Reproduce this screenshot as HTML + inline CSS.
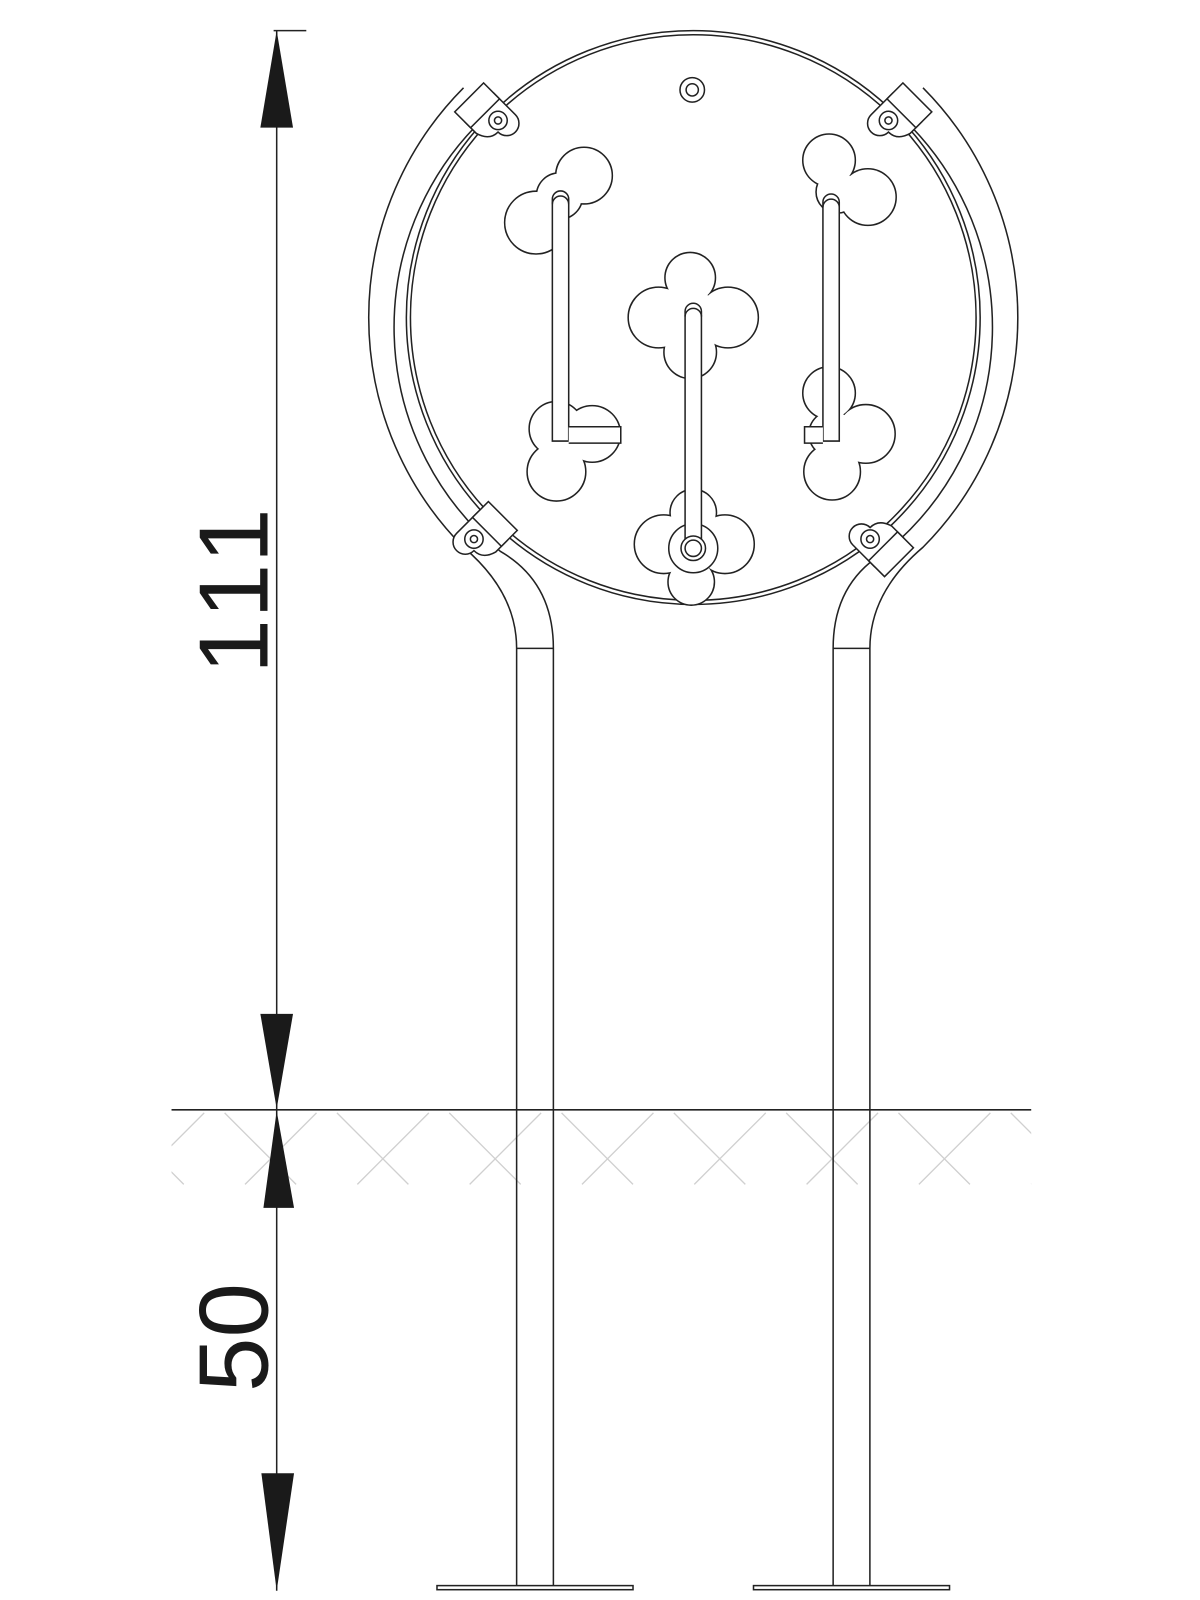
<!DOCTYPE html>
<html><head><style>body{margin:0;background:#fff}svg{display:block}
.st{stroke:#222;stroke-width:3;fill:#fff}.fl{stroke:none;fill:#fff}</style></head><body>
<svg width="1200" height="1600" viewBox="0 0 1200 1600" xmlns="http://www.w3.org/2000/svg">
<defs><clipPath id="hc"><rect x="168" y="1089" width="842" height="72"/></clipPath>
<g id="cl">
<circle cx="525" cy="218" r="30"/><circle cx="572" cy="172" r="27"/><circle cx="548" cy="192" r="22"/>
<circle cx="545" cy="462" r="28"/><circle cx="545" cy="420" r="26"/><circle cx="580" cy="425" r="27"/>
<circle cx="676" cy="272" r="24"/><circle cx="645" cy="311" r="29"/><circle cx="713" cy="311" r="29"/><circle cx="676" cy="345" r="25"/><circle cx="679" cy="311" r="26"/>
<circle cx="679" cy="502" r="22"/><circle cx="650" cy="533" r="28"/><circle cx="710" cy="533" r="28"/><circle cx="677" cy="570" r="22"/><circle cx="679" cy="537" r="24"/>
<circle cx="812" cy="157" r="25"/><circle cx="850" cy="193" r="27"/><circle cx="820" cy="188" r="20"/>
<circle cx="812" cy="385" r="25"/><circle cx="848" cy="425" r="28"/><circle cx="815" cy="462" r="27"/><circle cx="815" cy="425" r="22"/>
</g>
<g id="br"><path d="M-8 -30 L22 -30 A12 12 0 0 1 22 -6 Q22 6 8 10 L-8 10 Z"/><rect x="-22" y="-30" width="22" height="40"/><circle cx="14" cy="-14" r="9"/><circle cx="14" cy="-14" r="3.5"/></g>
</defs>
<g transform="scale(1.021)">
<g clip-path="url(#hc)" stroke="#d0d0d0" stroke-width="1.3" fill="none">
<path d="M110 1090 L180 1160 M220 1090 L290 1160 M330 1090 L400 1160 M440 1090 L510 1160 M550 1090 L620 1160 M660 1090 L730 1160 M770 1090 L840 1160 M880 1090 L950 1160 M990 1090 L1060 1160
M200 1090 L130 1160 M310 1090 L240 1160 M420 1090 L350 1160 M530 1090 L460 1160 M640 1090 L570 1160 M750 1090 L680 1160 M860 1090 L790 1160 M970 1090 L900 1160 M1080 1090 L1010 1160"/>
</g>
<g stroke="#222" stroke-width="1.5" fill="none">
<line x1="168" y1="1087" x2="1010" y2="1087"/>
<line x1="271" y1="30" x2="271" y2="1558"/>
<line x1="268" y1="30" x2="300" y2="30"/>
<circle cx="679" cy="311" r="281"/>
<circle cx="679" cy="311" r="277"/>
<path d="M454 86 A319 319 0 0 0 454 536 Q506 580 506 635 L506 1553"/>
<path d="M904 86 A319 319 0 0 1 904 536 Q852 580 852 635 L852 1553"/>
<path d="M479 111 A283 283 0 0 0 490 540 Q542 570 542 635 L542 1553"/>
<path d="M879 111 A283 283 0 0 1 868 540 Q816 570 816 635 L816 1553"/>
<line x1="506" y1="635" x2="542" y2="635"/><line x1="816" y1="635" x2="852" y2="635"/>
<rect x="428" y="1553" width="192" height="4"/><rect x="738" y="1553" width="192" height="4"/>
</g>
<g stroke="#222" stroke-width="1.5" fill="#fff">
<use href="#br" transform="translate(468,118) rotate(45)"/>
<use href="#br" transform="translate(890,118) rotate(-45) scale(-1,1)"/>
<use href="#br" transform="translate(484,528) rotate(135) scale(1,-1)"/>
<use href="#br" transform="translate(872,528) rotate(-135)"/>
</g>
<g stroke="#222" stroke-width="1.5" fill="none"><circle cx="678" cy="88" r="12"/><circle cx="678" cy="88" r="6"/></g>
<use href="#cl" class="st"/>
<use href="#cl" class="fl"/>
<g stroke="#222" stroke-width="1.5" fill="#fff">
<circle cx="679" cy="537" r="24" fill="none"/>
<path d="M541 432 L541 195 A8 8 0 0 1 557 195 L557 432 Z"/><path d="M541 200 A8 8 0 0 1 557 200" fill="none"/>
<path d="M557 418 L608 418 L608 434 L557 434"/>
<path d="M806 432 L806 198 A8 8 0 0 1 822 198 L822 432 Z"/><path d="M806 203 A8 8 0 0 1 822 203" fill="none"/>
<path d="M806 418 L788 418 L788 434 L806 434"/>
<path d="M671 540 L671 305 A8 8 0 0 1 687 305 L687 540 Z"/><path d="M671 310 A8 8 0 0 1 687 310" fill="none"/>
<circle cx="679" cy="537" r="12"/><circle cx="679" cy="537" r="8"/>
</g>
<g fill="#1a1a1a">
<polygon points="271,30 255,125 287,125"/>
<polygon points="271,1086 255,993 287,993"/>
<polygon points="271,1088 258,1183 288,1183"/>
<polygon points="271,1558 256,1443 288,1443"/>
</g>
<g font-family="Liberation Sans, sans-serif" font-size="96" fill="#1a1a1a">
<text transform="translate(262,575) rotate(-90)" text-anchor="middle" letter-spacing="8">111</text>
<text transform="translate(262,1310) rotate(-90)" text-anchor="middle">50</text>
</g>
</g>
</svg>
</body></html>
